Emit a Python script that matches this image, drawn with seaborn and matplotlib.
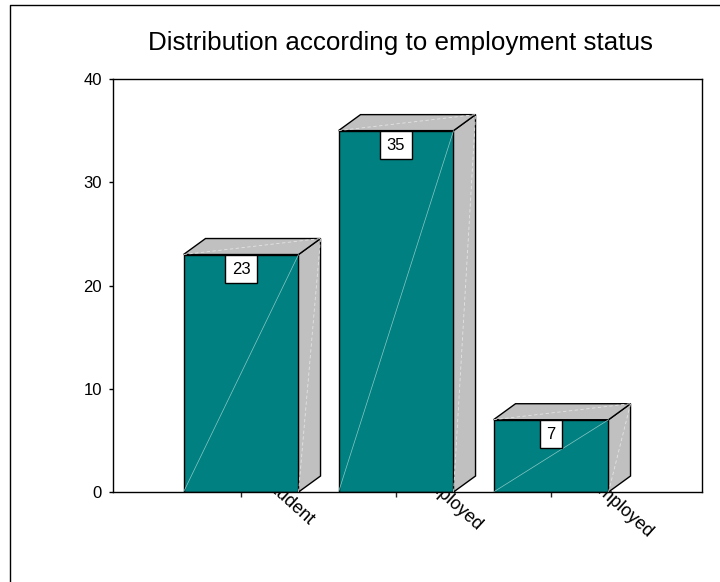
import matplotlib
matplotlib.use("Agg")
import matplotlib.pyplot as plt
from matplotlib.patches import Polygon
from matplotlib.lines import Line2D
import numpy as np
import pandas as pd
import seaborn as sns

# Data
categories = ["Student", "Employed", "Unemployed"]
counts = [23, 35, 7]
y_ticks = [0, 10, 20, 30, 40]
title = "Distribution according to employment status"

sns.set_theme(style="white")
plt.rcParams["font.family"] = ["Liberation Sans", "DejaVu Sans"]

W, H, DPI = 720, 582, 100
fig = plt.figure(figsize=(W / DPI, H / DPI), dpi=DPI)
fig.patch.set_facecolor("white")

# plot area (pixel box -> figure fractions)
left, right, top, bottom = 113, 702, 79, 492
ax = fig.add_axes([left / W, 1 - bottom / H, (right - left) / W, (bottom - top) / H])

df = pd.DataFrame({"status": categories, "count": counts})
sns.barplot(data=df, x="status", y="count", color="#008080", saturation=1,
            edgecolor="black", linewidth=1.0, width=0.742, ax=ax, zorder=1)

ax.set_xlim(-0.826, 2.974)
ax.set_ylim(0, 40)
ax.set_yticks(y_ticks)
ax.set_xlabel("")
ax.set_ylabel("")
for s in ax.spines.values():
    s.set_visible(True)
    s.set_color("black")
    s.set_linewidth(1.0)
    s.set_zorder(2.5)
ax.tick_params(axis="y", direction="out", length=3, width=1, pad=5,
               labelsize=12, colors="black", left=True)
ax.tick_params(axis="x", direction="out", length=3.5, width=1,
               bottom=True, labelbottom=False)

# depth of the 3-D extrusion, in pixels
depth = np.array([22.0, 16.0])
to_data = ax.transData.inverted()

bars = list(ax.patches)
for bar in bars:
    x0, w, h = bar.get_x(), bar.get_width(), bar.get_height()
    x1 = x0 + w

    def back(pt):
        d = ax.transData.transform(pt) + depth
        return to_data.transform(d)

    # side face
    side = [(x1, 0), tuple(back((x1, 0))), tuple(back((x1, h))), (x1, h)]
    ax.add_patch(Polygon(side, closed=True, fc="#c0c0c0", ec="black",
                         lw=1.0, zorder=1, clip_on=False))
    # top face
    topf = [(x0, h), tuple(back((x0, h))), tuple(back((x1, h))), (x1, h)]
    ax.add_patch(Polygon(topf, closed=True, fc="#c0c0c0", ec="black",
                         lw=1.0, zorder=1, clip_on=False))
    # faint shading diagonals
    ax.plot([x0, x1], [0, h], color="#8cc8c8", lw=0.5, zorder=1.1)
    bx, by = back((x1, h))
    ax.plot([x1, bx], [0, by], color="#e4e4e4", lw=0.6, ls=(0, (4, 3)), zorder=1.1)
    ax.plot([x0, bx], [h, by], color="#e4e4e4", lw=0.6, ls=(0, (4, 3)), zorder=1.1)

# value labels in boxes
for i, v in enumerate(counts):
    ax.annotate(str(v), xy=(i, v), xytext=(0, -10.5), textcoords="offset points",
                ha="center", va="center", fontsize=12, color="black", zorder=4,
                bbox=dict(boxstyle="square,pad=0.4", fc="white", ec="black", lw=1.0))

# rotated category labels, drawn beneath the bars
for i, lab in enumerate(categories):
    ax.annotate(lab, xy=(i, 0), xytext=(13.5, -7), textcoords="offset points",
                rotation=-42, ha="left", va="center", rotation_mode="default",
                fontsize=13, color="black", zorder=0.5, annotation_clip=False)

# title
fig.text(400 / W, 1 - 50 / H, title, ha="center", va="baseline",
         fontsize=18.7, color="black")

# outer frame
fig.add_artist(Line2D([10 / W, 10 / W, 1.02], [-0.02, 1 - 5 / H, 1 - 5 / H],
                      transform=fig.transFigure, color="black", lw=1.0))

fig.savefig("out.png", dpi=DPI, facecolor="white")
